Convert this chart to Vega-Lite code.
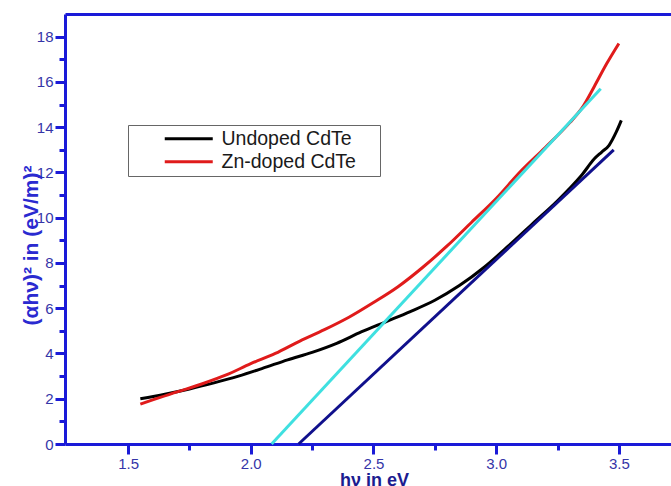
{
  "$schema": "https://vega.github.io/schema/vega-lite/v6.json",
  "width": 640,
  "height": 430,
  "autosize": {"type": "none"},
  "padding": {"left": 65, "top": 14, "right": 0, "bottom": 42},
  "background": "white",
  "config": {
    "view": {"stroke": null},
    "font": "Liberation Sans"
  },
  "datasets": {
    "curves": [
      {"hv": 1.55, "val": 2.0, "sample": "Undoped CdTe"},
      {"hv": 1.65, "val": 2.2, "sample": "Undoped CdTe"},
      {"hv": 1.75, "val": 2.43, "sample": "Undoped CdTe"},
      {"hv": 1.85, "val": 2.7, "sample": "Undoped CdTe"},
      {"hv": 1.95, "val": 3.0, "sample": "Undoped CdTe"},
      {"hv": 2.05, "val": 3.35, "sample": "Undoped CdTe"},
      {"hv": 2.15, "val": 3.72, "sample": "Undoped CdTe"},
      {"hv": 2.25, "val": 4.05, "sample": "Undoped CdTe"},
      {"hv": 2.35, "val": 4.45, "sample": "Undoped CdTe"},
      {"hv": 2.45, "val": 4.95, "sample": "Undoped CdTe"},
      {"hv": 2.55, "val": 5.4, "sample": "Undoped CdTe"},
      {"hv": 2.65, "val": 5.85, "sample": "Undoped CdTe"},
      {"hv": 2.75, "val": 6.35, "sample": "Undoped CdTe"},
      {"hv": 2.85, "val": 7.0, "sample": "Undoped CdTe"},
      {"hv": 2.95, "val": 7.8, "sample": "Undoped CdTe"},
      {"hv": 3.05, "val": 8.75, "sample": "Undoped CdTe"},
      {"hv": 3.15, "val": 9.75, "sample": "Undoped CdTe"},
      {"hv": 3.25, "val": 10.75, "sample": "Undoped CdTe"},
      {"hv": 3.3, "val": 11.3, "sample": "Undoped CdTe"},
      {"hv": 3.35, "val": 11.9, "sample": "Undoped CdTe"},
      {"hv": 3.4, "val": 12.6, "sample": "Undoped CdTe"},
      {"hv": 3.43, "val": 12.9, "sample": "Undoped CdTe"},
      {"hv": 3.46, "val": 13.2, "sample": "Undoped CdTe"},
      {"hv": 3.49, "val": 13.8, "sample": "Undoped CdTe"},
      {"hv": 3.51, "val": 14.3, "sample": "Undoped CdTe"},
      {"hv": 1.55, "val": 1.76, "sample": "Zn-doped CdTe"},
      {"hv": 1.6, "val": 1.95, "sample": "Zn-doped CdTe"},
      {"hv": 1.7, "val": 2.3, "sample": "Zn-doped CdTe"},
      {"hv": 1.8, "val": 2.65, "sample": "Zn-doped CdTe"},
      {"hv": 1.9, "val": 3.05, "sample": "Zn-doped CdTe"},
      {"hv": 2.0, "val": 3.55, "sample": "Zn-doped CdTe"},
      {"hv": 2.1, "val": 4.0, "sample": "Zn-doped CdTe"},
      {"hv": 2.2, "val": 4.55, "sample": "Zn-doped CdTe"},
      {"hv": 2.3, "val": 5.05, "sample": "Zn-doped CdTe"},
      {"hv": 2.4, "val": 5.6, "sample": "Zn-doped CdTe"},
      {"hv": 2.5, "val": 6.25, "sample": "Zn-doped CdTe"},
      {"hv": 2.6, "val": 6.95, "sample": "Zn-doped CdTe"},
      {"hv": 2.7, "val": 7.8, "sample": "Zn-doped CdTe"},
      {"hv": 2.8, "val": 8.75, "sample": "Zn-doped CdTe"},
      {"hv": 2.9, "val": 9.8, "sample": "Zn-doped CdTe"},
      {"hv": 3.0, "val": 10.85, "sample": "Zn-doped CdTe"},
      {"hv": 3.1, "val": 12.05, "sample": "Zn-doped CdTe"},
      {"hv": 3.2, "val": 13.1, "sample": "Zn-doped CdTe"},
      {"hv": 3.3, "val": 14.2, "sample": "Zn-doped CdTe"},
      {"hv": 3.35, "val": 14.85, "sample": "Zn-doped CdTe"},
      {"hv": 3.4, "val": 15.8, "sample": "Zn-doped CdTe"},
      {"hv": 3.45, "val": 16.8, "sample": "Zn-doped CdTe"},
      {"hv": 3.5, "val": 17.7, "sample": "Zn-doped CdTe"}
    ],
    "fits": [
      {"hv": 2.085, "val": 0, "fit": "Zn-doped fit"},
      {"hv": 3.426, "val": 15.7, "fit": "Zn-doped fit"},
      {"hv": 2.195, "val": 0, "fit": "Undoped fit"},
      {"hv": 3.479, "val": 13.0, "fit": "Undoped fit"}
    ]
  },
  "layer": [
    {
      "data": {"name": "curves"},
      "mark": {"type": "line", "strokeWidth": 3, "interpolate": "monotone"},
      "encoding": {
        "x": {
          "field": "hv", "type": "quantitative",
          "scale": {"domain": [1.243, 3.851], "nice": false, "zero": false},
          "axis": {
            "orient": "bottom",
            "values": [1.5, 2.0, 2.5, 3.0, 3.5], "format": ".1f",
            "grid": false,
            "domainColor": "#1a1ad8", "domainWidth": 3,
            "tickColor": "#1a1ad8", "tickWidth": 3, "tickSize": 10,
            "labelFontSize": 15, "labelColor": "#3535a8", "labelPadding": 2,
            "title": "hν in eV", "titleFontSize": 18, "titleFontWeight": "bold",
            "titleColor": "#1c1c90", "titleX": 309, "titleY": 41, "titleBaseline": "alphabetic"
          }
        },
        "y": {
          "field": "val", "type": "quantitative",
          "scale": {"domain": [0, 19], "nice": false},
          "axis": {
            "orient": "left",
            "values": [0, 2, 4, 6, 8, 10, 12, 14, 16, 18],
            "grid": false,
            "domainColor": "#1a1ad8", "domainWidth": 3,
            "tickColor": "#1a1ad8", "tickWidth": 3, "tickSize": 10,
            "labelFontSize": 15, "labelColor": "#3535a8", "labelPadding": 2,
            "title": "(αhν)² in (eV/m)²", "titleFontSize": 21, "titleFontWeight": "bold",
            "titleColor": "#2a2ad0", "titleX": -34, "titleY": 231, "titleBaseline": "middle"
          }
        },
        "color": {
          "field": "sample", "type": "nominal",
          "scale": {"domain": ["Undoped CdTe", "Zn-doped CdTe"], "range": ["#000000", "#e01b1b"]},
          "legend": {
            "orient": "none", "legendX": 63, "legendY": 111,
            "title": " ", "titleOrient": "right", "titlePadding": 20, "titleFontSize": 6,
            "strokeColor": "#666666", "fillColor": "white", "padding": 4,
            "symbolType": "M-4,0L4,0", "symbolStrokeWidth": 3, "symbolSize": 144,
            "symbolOffset": 47, "labelOffset": 23,
            "labelFontSize": 19.5, "labelColor": "#1a1a1a", "labelFont": "Liberation Sans",
            "rowPadding": 2
          }
        }
      }
    },
    {
      "data": {"name": "fits"},
      "mark": {"type": "line", "strokeWidth": 3},
      "encoding": {
        "x": {
          "field": "hv", "type": "quantitative",
          "axis": {
            "orient": "bottom", "values": [1.75, 2.25, 2.75, 3.25], "labels": false,
            "grid": false, "domain": false, "title": null,
            "tickColor": "#1a1ad8", "tickWidth": 3, "tickSize": 6
          }
        },
        "y": {
          "field": "val", "type": "quantitative",
          "axis": {
            "orient": "left", "values": [1, 3, 5, 7, 9, 11, 13, 15, 17], "labels": false,
            "grid": false, "domain": false, "title": null,
            "tickColor": "#1a1ad8", "tickWidth": 3, "tickSize": 6
          }
        },
        "color": {
          "field": "fit", "type": "nominal",
          "scale": {"domain": ["Zn-doped fit", "Undoped fit"], "range": ["#3fe0e0", "#10108c"]},
          "legend": null
        }
      }
    },
    {
      "data": {"name": "fits"},
      "mark": {"type": "line", "strokeOpacity": 0},
      "encoding": {
        "x": {
          "field": "hv", "type": "quantitative",
          "axis": {
            "orient": "top", "labels": false, "ticks": false, "grid": false, "title": null,
            "domainColor": "#1a1ad8", "domainWidth": 3
          }
        },
        "y": {"field": "val", "type": "quantitative", "axis": null},
        "detail": {"field": "fit"}
      }
    }
  ],
  "resolve": {"scale": {"color": "independent"}, "axis": {"x": "independent", "y": "independent"}}
}
